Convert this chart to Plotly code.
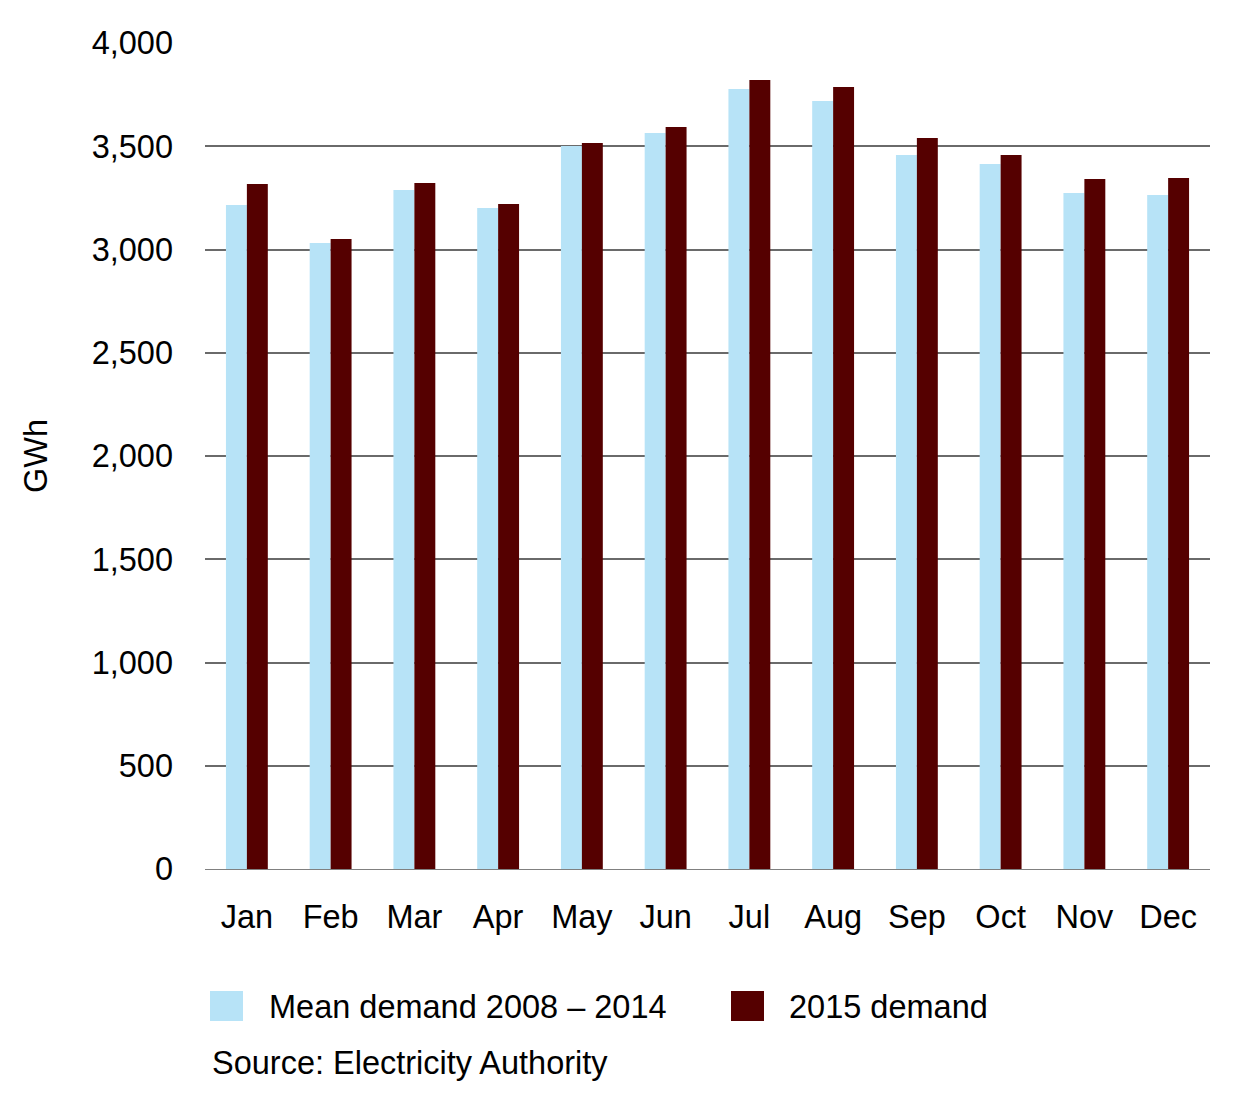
import plotly.graph_objects as go

months = ["Jan", "Feb", "Mar", "Apr", "May", "Jun", "Jul", "Aug", "Sep", "Oct", "Nov", "Dec"]
mean_2008_2014 = [3215, 3031, 3288, 3201, 3501, 3564, 3777, 3719, 3458, 3414, 3274, 3264]
demand_2015 = [3317, 3051, 3322, 3220, 3516, 3593, 3821, 3787, 3540, 3458, 3341, 3346]
series_names = ["Mean demand 2008 \u2013 2014", "2015 demand"]
series_colors = ["#B7E3F7", "#550000"]
y_ticks = [0, 500, 1000, 1500, 2000, 2500, 3000, 3500, 4000]
source_text = "Source: Electricity Authority"

FONT = "Liberation Sans, Arial, sans-serif"
FS = 32.5
OFF = 8  # page body offset
W, H = 1241, 1107
L, R, T, B = 205 - OFF, 31 + OFF, 43 - OFF, 238 + OFF
pw, ph = W - L - R, H - T - B

def px(x):
    return (x - OFF - L) / pw

def py(y):
    return (H - B - (y - OFF)) / ph

fig = go.Figure()
for name, vals, col in zip(series_names, [mean_2008_2014, demand_2015], series_colors):
    fig.add_trace(go.Bar(x=months, y=vals, name=name, marker=dict(color=col, line=dict(width=0)),
                         showlegend=False))

# manual legend (large square swatches)
legend_pos = [(210, 270), (731, 790)]
for (sx, tx), name, col in zip(legend_pos, series_names, series_colors):
    fig.add_shape(type="rect", xref="paper", yref="paper",
                  x0=px(sx), x1=px(sx + 33), y0=py(991), y1=py(1021),
                  fillcolor=col, line=dict(width=0))
    fig.add_annotation(xref="paper", yref="paper", x=px(tx - 3), y=py(1007), text=name,
                       showarrow=False, xanchor="left", yanchor="middle",
                       font=dict(family=FONT, size=FS, color="#000000"))

fig.add_annotation(xref="paper", yref="paper", x=px(210), y=py(1063), text=source_text,
                   showarrow=False, xanchor="left", yanchor="middle",
                   font=dict(family=FONT, size=FS, color="#000000"))

fig.update_layout(
    width=W, height=H,
    margin=dict(l=L, r=R, t=T, b=B),
    paper_bgcolor="white", plot_bgcolor="white",
    barmode="group", bargap=0.5, bargroupgap=0,
    font=dict(family=FONT, size=FS, color="#000000"),
    showlegend=False,
)
fig.update_xaxes(showgrid=False, showline=False, ticks="", ticklabelstandoff=25,
                 tickfont=dict(family=FONT, size=FS, color="#000000"), zeroline=False)
fig.update_yaxes(range=[0, 4000], tickvals=y_ticks, tickformat=",d",
                 showgrid=True, gridcolor="#6A6A6A", gridwidth=1.8,
                 zeroline=True, zerolinecolor="#808080", zerolinewidth=1,
                 showline=False, ticks="", ticklabelstandoff=31,
                 tickfont=dict(family=FONT, size=FS, color="#000000"),
                 title=dict(text="GWh", standoff=34, font=dict(family=FONT, size=FS, color="#000000")))

fig.write_html("out.html")
